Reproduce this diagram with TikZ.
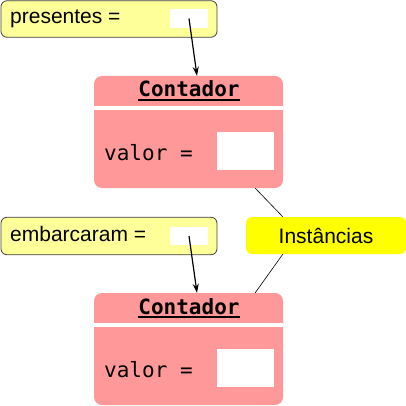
\documentclass[tikz,border=0pt]{standalone}
\usepackage{fontspec}
\setmainfont{Liberation Sans}
\newfontfamily\codefont{DejaVu Sans Mono}
\usetikzlibrary{arrows.meta,calc}
\definecolor{salmon}{HTML}{FF9999}
\definecolor{lightyel}{HTML}{FFFF99}
\definecolor{brightyel}{HTML}{FFFF00}
\begin{document}
\begin{tikzpicture}[x=1pt,y=-1pt,
  varbox/.style={draw=black!75,line width=0.8pt,fill=lightyel,rounded corners=6pt,inner sep=0pt},
  slot/.style={fill=white,inner sep=0pt},
  objbox/.style={fill=salmon,rounded corners=8pt,inner sep=0pt},
  gap/.style={fill=white,inner sep=0pt},
  notebox/.style={fill=brightyel,rounded corners=6pt,inner sep=0pt},
  sanstxt/.style={inner sep=0pt,font=\fontsize{21}{25}\selectfont},
  codetxt/.style={inner sep=0pt,font=\codefont\fontsize{21}{25}\selectfont},
  ref/.style={line width=1.2pt,-{Stealth[length=9pt,width=6pt]}},
  noteline/.style={line width=0.6pt}]
\useasboundingbox (0,0) rectangle (406,406);
% variable boxes
\node[varbox,minimum width=216pt,minimum height=36.5pt] (v1) at (109,19) {};
\node[slot,minimum width=38pt,minimum height=19pt] (s1) at (189,18.5) {};
\node[sanstxt,anchor=base west] (t1) at (10,24) {presentes =};
\node[varbox,minimum width=216pt,minimum height=37.5pt] (v2) at (109,236) {};
\node[slot,minimum width=38pt,minimum height=18pt] (s2) at (189,236) {};
\node[sanstxt,anchor=base west] (t2) at (10,241) {embarcaram =};
% object boxes
\node[objbox,minimum width=189pt,minimum height=112pt] (c1) at (188.5,132) {};
\node[gap,minimum width=189pt,minimum height=4pt] (g1) at (188.5,108) {};
\node[codetxt,anchor=base] (h1) at (189,97) {\bfseries Contador};
\draw[line width=1.7pt] ([yshift=-3pt]h1.base west) -- ([yshift=-3pt]h1.base east);
\node[codetxt,anchor=base west] (a1) at (104,160) {valor =};
\node[slot,minimum width=57pt,minimum height=38pt] (w1) at (245.5,151) {};
\node[objbox,minimum width=189pt,minimum height=112pt] (c2) at (188.5,349) {};
\node[gap,minimum width=189pt,minimum height=4pt] (g2) at (188.5,325) {};
\node[codetxt,anchor=base] (h2) at (189,314) {\bfseries Contador};
\draw[line width=1.7pt] ([yshift=-3pt]h2.base west) -- ([yshift=-3pt]h2.base east);
\node[codetxt,anchor=base west] (a2) at (104,377) {valor =};
\node[slot,minimum width=57pt,minimum height=38pt] (w2) at (245.5,368) {};
% note
\node[notebox,minimum width=160pt,minimum height=37pt] (n) at (326,235.5) {};
\node[sanstxt,anchor=base] (nt) at (326,243) {Instâncias};
% connectors
\draw[ref] (s1.center) -- ([xshift=8.5pt]c1.north);
\draw[ref] (s2.center) -- ([xshift=8.5pt]c2.north);
\draw[noteline] ([xshift=37pt]n.north west) -- ([xshift=-28pt]c1.south east);
\draw[noteline] ([xshift=37pt]n.south west) -- ([xshift=-28pt]c2.north east);
\end{tikzpicture}
\end{document}
